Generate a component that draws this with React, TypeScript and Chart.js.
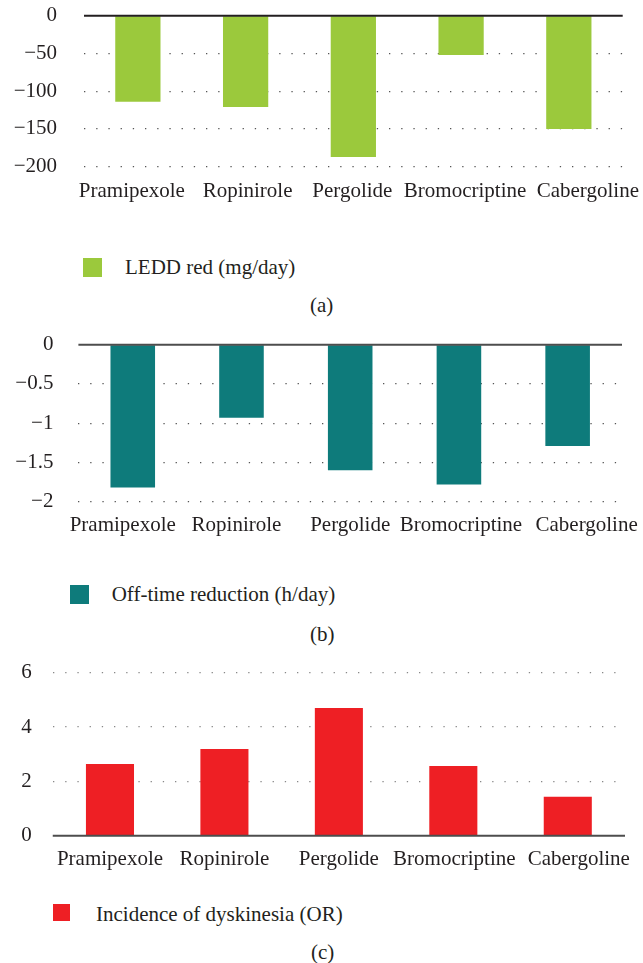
import React, { useEffect, useRef } from "react";
import { Chart, registerables } from "chart.js";

Chart.register(...registerables);

const categories = ["Pramipexole", "Ropinirole", "Pergolide", "Bromocriptine", "Cabergoline"];
const leddReduction = [-114, -121, -187, -52, -150];
const offTimeReduction = [-1.82, -0.93, -1.6, -1.78, -1.29];
const dyskinesiaOR = [2.64, 3.19, 4.7, 2.57, 1.43];

const legendLabels = ["LEDD red (mg/day)", "Off-time reduction (h/day)", "Incidence of dyskinesia (OR)"];
const captions = ["(a)", "(b)", "(c)"];

const axisA = { min: -200, max: 0, step: 50 };
const axisB = { min: -2, max: 0, step: 0.5 };
const axisC = { min: 0, max: 6, step: 2 };

const FONT = '"Liberation Serif", "Times New Roman", serif';
const FS = 21;
const TEXT = "#231f20";
const W = 643;

type Panel = {
  values: number[];
  color: string;
  axis: { min: number; max: number; step: number };
  top: number;
  height: number;
  area: { left: number; top: number; right: number; bottom: number };
  yPad: number;
  labelBase: number;
  nudge: number[];
  zeroColor: string;
  gridColor: string;
  bar: number;
};

const panels: Panel[] = [
  {
    values: leddReduction, color: "#9bc93c", axis: axisA, top: 0, height: 215,
    area: { left: 84, top: 15.7, right: 622.7, bottom: 166.7 }, yPad: 27, labelBase: 30,
    nudge: [-6, 2, -1, 4, 19],
    zeroColor: "#231f20", gridColor: "#555", bar: 0.42,
  },
  {
    values: offTimeReduction, color: "#0e7b7b", axis: axisB, top: 330, height: 210,
    area: { left: 78.4, top: 14.7, right: 622, bottom: 171.7 }, yPad: 25, labelBase: 29,
    nudge: [-10, -5, 0, 2, 19],
    zeroColor: "#4d4d4d", gridColor: "#555", bar: 0.41,
  },
  {
    values: dyskinesiaOR, color: "#ee1f24", axis: axisC, top: 655, height: 215,
    area: { left: 52.75, top: 17.7, right: 625, bottom: 180.7 }, yPad: 21, labelBase: 29,
    nudge: [0, 0, 0, 1, 11],
    zeroColor: "#4d4d4d", gridColor: "#888", bar: 0.42,
  },
];

const fmt = (v: number) => (v < 0 ? "\u2212" + Math.abs(v) : String(v));

function PanelChart({ p, idx }: { p: Panel; idx: number }) {
  const ref = useRef<HTMLCanvasElement | null>(null);
  useEffect(() => {
    if (!ref.current) return;
    const extras = {
      id: "extras" + idx,
      afterDatasetsDraw(chart: any) {
        const ctx = chart.ctx;
        const xs = chart.scales.x;
        const y = chart.scales.y.getPixelForValue(0);
        const { left, right, bottom } = chart.chartArea;
        ctx.save();
        ctx.strokeStyle = p.zeroColor;
        ctx.lineWidth = 2;
        ctx.beginPath();
        ctx.moveTo(left, y);
        ctx.lineTo(right, y);
        ctx.stroke();
        ctx.fillStyle = TEXT;
        ctx.font = `${FS}px ${FONT}`;
        ctx.textAlign = "center";
        ctx.textBaseline = "alphabetic";
        const labels = chart.data.labels as string[];
        labels.forEach((lab, i) => {
          ctx.fillText(lab, xs.getPixelForTick(i) + p.nudge[i], bottom + p.labelBase);
        });
        ctx.restore();
      },
    };
    const chart = new Chart(ref.current, {
      type: "bar",
      data: {
        labels: categories,
        datasets: [
          {
            label: legendLabels[idx],
            data: p.values,
            backgroundColor: p.color,
            borderWidth: 0,
            barPercentage: p.bar,
            categoryPercentage: 1,
          },
        ],
      },
      options: {
        animation: false,
        responsive: false,
        maintainAspectRatio: false,
        layout: { padding: { top: p.area.top, right: W - p.area.right, left: 0, bottom: 0 } },
        plugins: { legend: { display: false }, tooltip: { enabled: false }, title: { display: false } },
        scales: {
          x: {
            grid: { display: false, drawTicks: false },
            border: { display: false },
            ticks: { display: false, autoSkip: false, maxRotation: 0, minRotation: 0 },
            afterFit: (s: any) => {
              s.height = p.height - p.area.bottom;
              s.paddingLeft = 0;
              s.paddingRight = 0;
            },
          },
          y: {
            min: p.axis.min,
            max: p.axis.max,
            grid: {
              drawTicks: false,
              lineWidth: 1.3,
              color: (c: any) => (c.tick && c.tick.value === 0 ? "rgba(0,0,0,0)" : p.gridColor),
            },
            border: { display: false, dash: [1.3, 10.9] },
            ticks: {
              stepSize: p.axis.step,
              padding: p.yPad,
              color: TEXT,
              font: { family: FONT, size: FS },
              callback: (v: any) => fmt(Number(v)),
            },
            afterFit: (s: any) => {
              s.width = p.area.left;
              s.paddingTop = 0;
              s.paddingBottom = 0;
            },
          },
        },
      },
      plugins: [extras],
    } as any);
    return () => chart.destroy();
  }, []);
  return (
    <canvas
      ref={ref}
      width={W}
      height={p.height}
      style={{ position: "absolute", left: 0, top: p.top, width: W, height: p.height }}
    />
  );
}

const legendPos = [
  { box: { x: 83, y: 258, s: 19 }, text: { x: 125, top: 257.4 }, cap: { x: 310, top: 295.1 } },
  { box: { x: 70, y: 585, s: 19 }, text: { x: 111.7, top: 584.1 }, cap: { x: 310, top: 624.1 } },
  { box: { x: 53.3, y: 904, s: 17 }, text: { x: 96, top: 904.1 }, cap: { x: 311, top: 942.4 } },
];

export default function App() {
  const textStyle = {
    position: "absolute" as const,
    fontFamily: FONT,
    fontSize: FS,
    lineHeight: FS + "px",
    color: TEXT,
    whiteSpace: "nowrap" as const,
  };
  return (
    <div style={{ position: "absolute", left: 0, top: 0, width: W, height: 963, background: "#fff", overflow: "hidden" }}>
      {panels.map((p, i) => (
        <PanelChart key={i} p={p} idx={i} />
      ))}
      {legendPos.map((l, i) => (
        <React.Fragment key={"l" + i}>
          <div
            style={{
              position: "absolute",
              left: l.box.x,
              top: l.box.y,
              width: l.box.s,
              height: l.box.s,
              background: panels[i].color,
            }}
          />
          <div style={{ ...textStyle, left: l.text.x, top: l.text.top }}>{legendLabels[i]}</div>
          <div style={{ ...textStyle, left: l.cap.x, top: l.cap.top }}>{captions[i]}</div>
        </React.Fragment>
      ))}
    </div>
  );
}
